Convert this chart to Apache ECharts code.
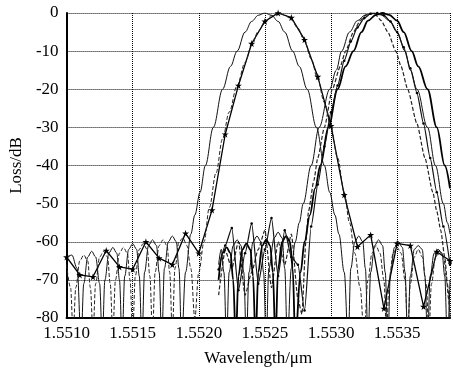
<!DOCTYPE html>
<html><head><meta charset="utf-8">
<script src="https://cdn.jsdelivr.net/npm/echarts@6/dist/echarts.min.js"></script>
<style>html,body{margin:0;padding:0;background:#fff}#c{width:453px;height:373px}</style>
</head><body><div id="c"></div>
<script>
// tick labels
const xTickLabels = ['1.5510','1.5515','1.5520','1.5525','1.5530','1.5535'];
const yTickLabels = ['-80','-70','-60','-50','-40','-30','-20','-10','0'];

// L1: thin solid response (centre ~1.55250)
const seriesL1 = [
[1.55100,-64],[1.55104,-63.5],[1.55108,-67],[1.55111,-86],
[1.55113,-71],[1.55116,-64],[1.55119,-62.5],[1.55122,-64],[1.55125,-71],[1.55127,-86],
[1.55129,-70],[1.55132,-63],[1.55135,-61.5],[1.55138,-63],[1.55140,-70],[1.55142,-86],
[1.55144,-69],[1.55147,-62],[1.55150,-60.5],[1.55153,-62],[1.55155,-69],[1.55157,-86],
[1.55159,-68],[1.55162,-61],[1.55165,-59.5],[1.55168,-61],[1.55170,-68],[1.55172,-86],
[1.55174,-67],[1.55177,-60],[1.55180,-58.5],[1.55183,-60],[1.55185,-67],[1.55187,-86],
[1.55190,-68],[1.55194,-58],[1.55197,-53],[1.55201,-47],[1.55205,-40],[1.55211,-30],[1.55218,-20],[1.55224,-14],[1.55229,-10],[1.55235,-5],[1.55240,-2.2],[1.55245,-0.6],[1.55250,0],[1.55255,-0.6],[1.55260,-2.2],[1.55265,-5],[1.55271,-10],[1.55276,-14],[1.55282,-20],[1.55289,-30],[1.55295,-40],[1.55299,-47],[1.55303,-53],[1.55306,-58],[1.55310,-68],[1.55313,-86],
[1.55315,-67],[1.55318,-60],[1.55321,-58.5],[1.55324,-60],[1.55326,-67],[1.55328,-86],
[1.55330,-68],[1.55333,-61],[1.55336,-59.5],[1.55339,-61],[1.55341,-68],[1.55343,-86],
[1.55345,-68],[1.55348,-61.5],[1.55351,-60],[1.55354,-61.5],[1.55356,-68],[1.55358,-86],
[1.55360,-69],[1.55363,-62],[1.55366,-61],[1.55369,-62],[1.55371,-69],[1.55373,-86],
[1.55375,-69],[1.55378,-63],[1.55381,-62],[1.55384,-63],[1.55386,-69],[1.55388,-86],
[1.55390,-70]
];

// L2: starred sampled response (every 0.0001)
const wlL2 = [1.5510,1.5511,1.5512,1.5513,1.5514,1.5515,1.5516,1.5517,1.5518,1.5519,1.5520,1.5521,1.5522,1.5523,1.5524,1.5525,1.5526,1.5527,1.5528,1.5529,1.5530,1.5531,1.5532,1.5533,1.5534,1.5535,1.5536,1.5537,1.5538,1.5539];
const lossL2 = [-64,-68.7,-69.2,-62.3,-66.6,-67.2,-60,-64.3,-66,-57.8,-63,-51.7,-31.8,-19,-8,-2.2,0,-1.2,-7,-16.7,-29.6,-47.7,-61.3,-58.2,-77.5,-60.4,-61,-77,-62.6,-65];

// L3: dashed response (centre ~1.55260)
const seriesL3 = [
[1.55100,-66],[1.55103,-72],[1.55105,-84],
[1.55107,-72],[1.55110,-65],[1.55113,-63.5],[1.55116,-65],[1.55118,-72],[1.55120,-84],
[1.55122,-71],[1.55125,-64],[1.55128,-62.5],[1.55131,-64],[1.55133,-71],[1.55135,-84],
[1.55137,-70],[1.55140,-63],[1.55143,-61.5],[1.55146,-63],[1.55148,-70],[1.55150,-84],
[1.55152,-69],[1.55155,-62],[1.55158,-60.5],[1.55161,-62],[1.55163,-69],[1.55165,-84],
[1.55167,-68],[1.55170,-61],[1.55173,-59.5],[1.55176,-61],[1.55178,-68],[1.55180,-84],
[1.55182,-67],[1.55185,-60],[1.55188,-59],[1.55191,-61],[1.55194,-67],[1.55197,-80],
[1.55200,-68],[1.55204,-60],[1.55208,-51],[1.55213,-42],[1.55218,-33],[1.55223,-26],[1.55229,-19],[1.55235,-13],[1.55240,-8.5],[1.55245,-4.8],[1.55250,-2.3],[1.55255,-0.7],[1.55260,0],[1.55265,-0.5],[1.55270,-1.8],[1.55275,-4],[1.55280,-7.5],[1.55285,-12],[1.55290,-17.5],[1.55295,-23.5],[1.55300,-30],[1.55305,-38],[1.55310,-47],[1.55314,-55],[1.55318,-63],[1.55322,-72],[1.55325,-84],
[1.55328,-70],[1.55331,-63],[1.55334,-61],[1.55337,-63],[1.55340,-70],[1.55342,-84],
[1.55344,-70],[1.55347,-63],[1.55350,-61.5],[1.55353,-63],[1.55356,-70],[1.55358,-84],
[1.55360,-71],[1.55363,-64],[1.55366,-62],[1.55369,-64],[1.55372,-71],[1.55374,-84],
[1.55376,-71],[1.55379,-64],[1.55382,-62.5],[1.55385,-64],[1.55388,-71],[1.55390,-80]
];

// R1: dashed response (centre ~1.55330)
const seriesR1 = [
[1.55215,-74],[1.55220,-62.3],[1.55225,-67],[1.55230,-60],[1.55235,-74],[1.55240,-68],[1.55245,-62],[1.55250,-57],[1.55255,-72],[1.55260,-60],[1.55265,-66],[1.55270,-58],[1.55275,-75],[1.55278,-79],
[1.55281,-60],[1.55283,-52],[1.55287,-44],[1.55290,-38],[1.55295,-30],[1.55301,-20],[1.55307,-14],[1.55311,-10],[1.55317,-5],[1.55322,-2],[1.55326,-0.6],[1.55330,0],[1.55334,-0.6],[1.55338,-2],[1.55343,-5],[1.55349,-10],[1.55353,-14],[1.55358,-20],[1.55365,-29],[1.55371,-38],[1.55377,-47],[1.55380,-52],[1.55383,-57],[1.55386,-64],[1.55389,-75],[1.55390,-80]
];

// R2: thin solid response (centre ~1.55332)
const seriesR2 = [
[1.55215,-66],[1.55217,-62],[1.55219,-68],[1.55221,-86],
[1.55223,-68],[1.55226,-61],[1.55229,-59.5],[1.55232,-61],[1.55234,-68],[1.55236,-86],
[1.55238,-68],[1.55241,-60],[1.55244,-58.5],[1.55247,-60],[1.55249,-68],[1.55251,-86],
[1.55253,-67],[1.55257,-59],[1.55260,-57.5],[1.55263,-59],[1.55265,-67],[1.55267,-86],
[1.55270,-67],[1.55273,-60],[1.55276,-55],[1.55279,-50],[1.55285,-40],[1.55291,-30],[1.55299,-20],[1.55304,-15],[1.55308,-10],[1.55314,-5],[1.55320,-2],[1.55326,-0.5],[1.55332,0],[1.55338,-0.5],[1.55344,-2],[1.55350,-5],[1.55356,-10],[1.55360,-15],[1.55365,-20],[1.55373,-30],[1.55379,-40],[1.55385,-50],[1.55388,-55],[1.55390,-58]
];

// R3: thick solid response (centre ~1.55339)
const seriesR3 = [
[1.55215,-70],[1.55218,-63],[1.55221,-61.5],[1.55224,-63],[1.55226,-70],[1.55228,-86],
[1.55230,-69],[1.55233,-62],[1.55236,-60.5],[1.55239,-62],[1.55241,-69],[1.55243,-86],
[1.55245,-68],[1.55248,-61],[1.55251,-59.5],[1.55254,-61],[1.55256,-68],[1.55258,-86],
[1.55260,-67],[1.55263,-60],[1.55266,-58.5],[1.55269,-60],[1.55271,-67],[1.55273,-86],
[1.55277,-68],[1.55280,-60],[1.55284,-53],[1.55288,-46],[1.55292,-40],[1.55298,-30],[1.55305,-20],[1.55311,-14],[1.55317,-10],[1.55323,-5],[1.55328,-2],[1.55334,-0.5],[1.55339,0],[1.55344,-0.5],[1.55350,-2],[1.55355,-5],[1.55361,-10],[1.55366,-14],[1.55373,-20],[1.55380,-30],[1.55386,-40],[1.55390,-46]
];

// R4: sampled solid response with dots (centre ~1.55335)
const seriesR4 = [
[1.55215,-67.3],[1.55220,-61],[1.55225,-56.4],[1.55230,-72.7],[1.55235,-63],[1.55240,-55.2],[1.55245,-71],[1.55250,-62],[1.55255,-53.8],[1.55260,-69],[1.55265,-57],[1.55270,-64],[1.55275,-66],[1.55280,-78],[1.55285,-56],[1.55290,-45],[1.55295,-35],[1.55300,-26],[1.55305,-19],[1.55310,-12.5],[1.55315,-7.5],[1.55320,-3.8],[1.55325,-1.4],[1.55330,-0.2],[1.55335,0],[1.55340,-0.6],[1.55345,-2.2],[1.55350,-5],[1.55355,-9],[1.55360,-14.5],[1.55365,-21],[1.55370,-29],[1.55375,-38],[1.55380,-47],[1.55385,-56],[1.55390,-66]
];

const star = 'path://M50,0 L61,35 L98,35 L68,57 L79,91 L50,70 L21,91 L32,57 L2,35 L39,35 Z';
const serif = 'Liberation Serif';

function lineSeries(data, opt) {
  return Object.assign({
    type: 'line', data: data, symbol: 'none', smooth: 0.35, smoothMonotone: 'x',
    clip: true, animation: false,
    lineStyle: { color: '#111', width: 1, type: 'solid' }
  }, opt);
}

const chart = echarts.init(document.getElementById('c'), null, { renderer: 'canvas' });
chart.setOption({
  animation: false,
  backgroundColor: '#fff',
  grid: { left: 61, right: 0, top: 13, bottom: 55, containLabel: false },
  xAxis: {
    type: 'value', min: 1.5510, max: 1.5539, interval: 0.0005,
    name: 'Wavelength/\u03bcm', nameLocation: 'middle', nameGap: 32,
    nameTextStyle: { fontFamily: serif, fontSize: 17, color: '#000' },
    axisLine: { show: true, onZero: false, lineStyle: { color: '#000', width: 2 } },
    axisTick: { show: false },
    axisLabel: { fontFamily: serif, fontSize: 17, color: '#000', margin: 7,
      formatter: v => { const s = v.toFixed(4); return xTickLabels.includes(s) ? s : ''; } },
    splitLine: { show: true, lineStyle: { color: '#000', width: 1, type: [1, 1] } }
  },
  yAxis: {
    type: 'value', min: -80, max: 0, interval: 10,
    name: 'Loss/dB', nameLocation: 'middle', nameGap: 38,
    nameTextStyle: { fontFamily: serif, fontSize: 17, color: '#000' },
    axisLine: { show: true, onZero: false, lineStyle: { color: '#000', width: 2 } },
    axisTick: { show: false },
    axisLabel: { fontFamily: serif, fontSize: 17, color: '#000', margin: 8,
      formatter: v => { const s = String(Math.round(v)); return yTickLabels.includes(s) ? s : ''; } },
    splitLine: { show: true, lineStyle: { color: '#000', width: 1, type: [1, 1] } }
  },
  series: [
    lineSeries(seriesL1, {}),
    lineSeries(wlL2.map((x, i) => [x, lossL2[i]]), {
      smooth: false, symbol: star, symbolSize: 7, showSymbol: true,
      itemStyle: { color: '#000' }, lineStyle: { color: '#000', width: 1.3 }
    }),
    lineSeries(seriesL3, { lineStyle: { color: '#222', width: 1, type: [4, 2] } }),
    lineSeries(seriesR1, { smooth: 0.2, lineStyle: { color: '#222', width: 1.2, type: [4, 2] } }),
    lineSeries(seriesR2, {}),
    lineSeries(seriesR3, { lineStyle: { color: '#000', width: 1.8 } }),
    lineSeries(seriesR4, { smooth: 0.2, symbol: 'circle', symbolSize: 2.5, showSymbol: true,
      itemStyle: { color: '#000' }, lineStyle: { color: '#111', width: 1.2 } })
  ]
});
</script>
</body></html>
